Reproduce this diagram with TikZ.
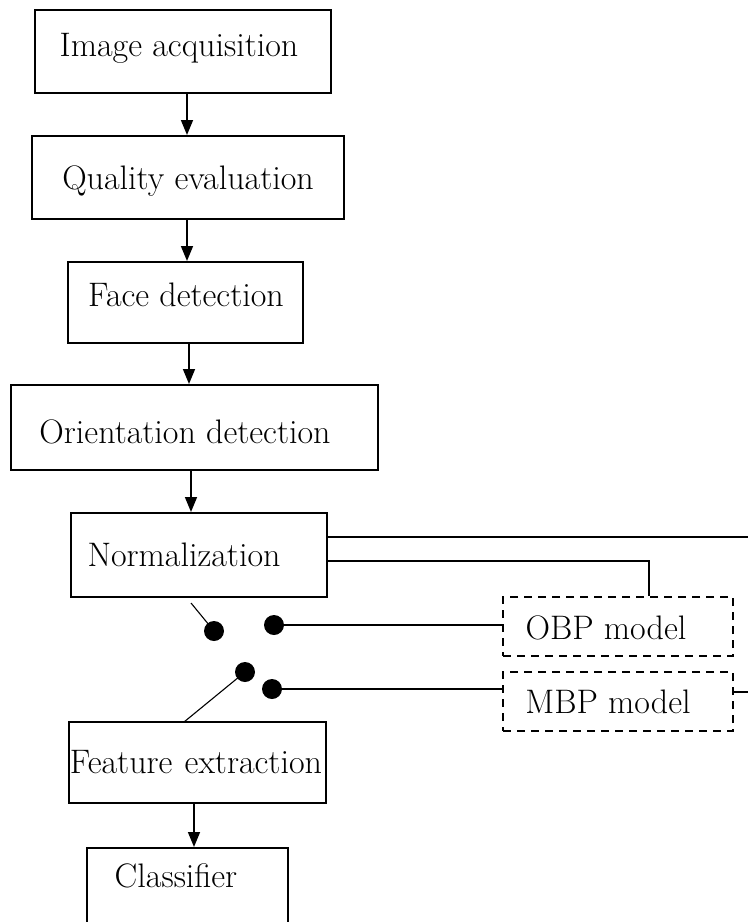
\documentclass[tikz,border=0pt]{standalone}
\usetikzlibrary{arrows.meta}
\begin{document}
\begin{tikzpicture}[x=1pt,y=-1pt,
  box/.style={draw,line width=2pt,rectangle,inner sep=0pt},
  dbox/.style={draw,line width=1.8pt,rectangle,inner sep=0pt,dash pattern=on 8pt off 6pt},
  txt/.style={inner sep=0pt,font=\fontsize{34}{40}\selectfont},
  arr/.style={line width=1.6pt,-{Triangle[length=15pt,width=12pt]}},
  conn/.style={line width=1.7pt},
  thin/.style={line width=1.1pt},
  dot/.style={circle,fill=black,draw=none,minimum size=20pt,inner sep=0pt}]
\useasboundingbox (0,0) rectangle (748,922);
\clip (0,0) rectangle (748,922);
% boxes
\node[box,minimum width=296pt,minimum height=83pt] (ia) at (183,51.5) {};
\node[box,minimum width=312pt,minimum height=83pt] (qe) at (188,177.5) {};
\node[box,minimum width=235pt,minimum height=81pt] (fd) at (185.5,302.5) {};
\node[box,minimum width=367pt,minimum height=85pt] (od) at (194.5,427.5) {};
\node[box,minimum width=256pt,minimum height=84pt] (nm) at (199,555) {};
\node[dbox,minimum width=230pt,minimum height=59pt] (obp) at (618,626.5) {};
\node[dbox,minimum width=230pt,minimum height=59pt] (mbp) at (618,701.5) {};
\node[box,minimum width=257pt,minimum height=81pt] (fe) at (197.5,762.5) {};
\node[box,minimum width=201pt,minimum height=92pt] (cl) at (187.5,894) {};
% texts
\node[txt] (tia) at (179,48) {Image acquisition};
\node[txt] (tqe) at (188,181) {Quality evaluation};
\node[txt] (tfd) at (186,295) {Face detection};
\node[txt] (tod) at (185,432) {Orientation detection};
\node[txt] (tnm) at (184,555) {Normalization};
\node[txt] (tobp) at (606,628) {OBP model};
\node[txt] (tmbp) at (608,702) {MBP model};
\node[txt] (tfe) at (196,762) {Feature\hspace{2pt} extraction};
\node[txt] (tcl) at (176,876) {Classifier};
% arrows
\draw[arr] ([xshift=4pt]ia.south) -- ([xshift=4pt]ia.south |- qe.north);
\draw[arr] ([xshift=-1pt]qe.south) -- ([xshift=-1pt]qe.south |- fd.north);
\draw[arr] ([xshift=3.5pt]fd.south) -- ([xshift=3.5pt]fd.south |- od.north);
\draw[arr] ([xshift=-3.5pt]od.south) -- ([xshift=-3.5pt]od.south |- nm.north);
\draw[arr] ([xshift=-3.5pt]fe.south) -- ([xshift=-3.5pt]fe.south |- cl.north);
% switch dots
\node[dot] (d1) at (214,631) {};
\node[dot] (d2) at (274,625) {};
\node[dot] (d3) at (245,672) {};
\node[dot] (d4) at (272,689) {};
\coordinate (s1) at (191,603);
\coordinate (s2) at (184,722);
\draw[thin] (s1) -- (d1.center);
\draw[thin] (s2) -- (d3.center);
\draw[conn] (d2.center) -- (d2.center -| obp.west);
\draw[conn] (d4.center) -- (d4.center -| mbp.west);
% lines from normalization
\coordinate (r1) at (748,537);
\coordinate (r2) at (748,692);
\draw[conn] ([yshift=18pt]nm.east) -- (r1);
\draw[conn] ([yshift=-6pt]nm.east) -| ([xshift=31pt]obp.north);
\draw[conn] ([yshift=9.5pt]mbp.east) -- (r2);
\end{tikzpicture}
\end{document}
